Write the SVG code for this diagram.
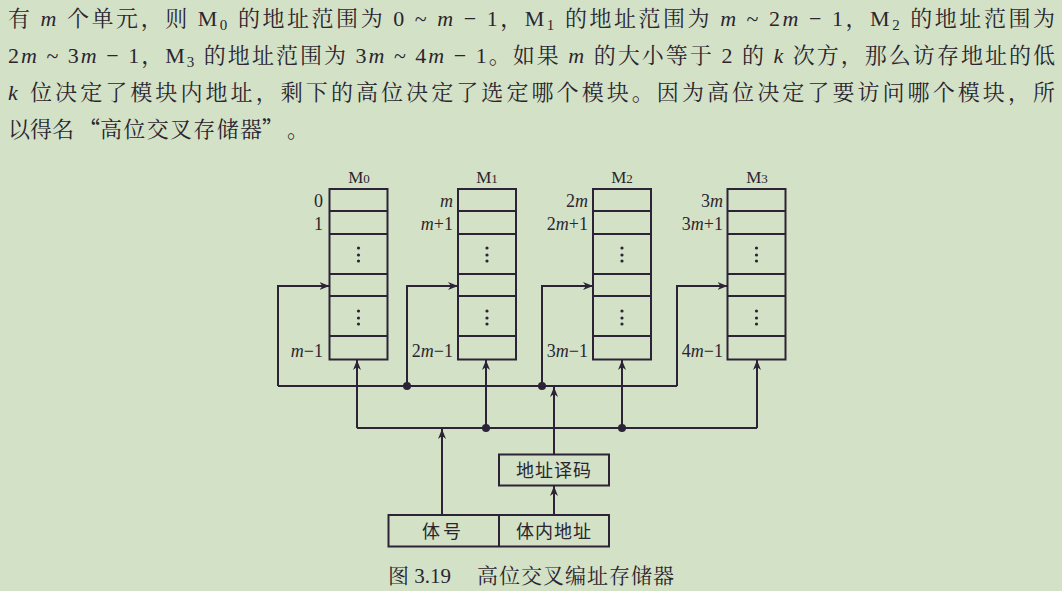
<svg xmlns="http://www.w3.org/2000/svg" width="1062" height="591" viewBox="0 0 1062 591">
<style>
.t{font-family:"Liberation Serif","Noto Serif CJK SC","Noto Sans CJK SC",serif;fill:#2b2530}
.p{font-size:22px}
.i{font-style:italic}
.q{font-family:"Noto Sans CJK SC",sans-serif}
.lbl{font-family:"Liberation Serif","Noto Sans CJK SC",serif;fill:#2b2530;font-size:18px}
.ml{font-family:"Liberation Serif",serif;fill:#2b2530;font-size:17px}
.cj{font-family:"Noto Sans CJK SC",sans-serif;fill:#2b2530;font-size:18px}
.box{fill:none;stroke:#2d2336;stroke-width:2}
.ln{fill:none;stroke:#2d2336;stroke-width:2}
.dot{fill:#2d2336}
</style>
<defs>
<marker id="ah" viewBox="0 0 10 10" refX="10" refY="5" markerWidth="10" markerHeight="10" markerUnits="userSpaceOnUse" orient="auto">
<path d="M0,1 L10,5 L0,9 L3,5 Z" fill="#2d2336"/>
</marker>
</defs>
<rect width="1062" height="591" fill="#d3e2c6"/>

<g id="paragraph">
<text class="t p" x="8" y="26" textLength="1047" lengthAdjust="spacing">有 <tspan class="i">m</tspan> 个单元，则 M<tspan font-size="15" dy="4">0</tspan><tspan dy="-4"> 的地址范围为 0 ~ </tspan><tspan class="i">m</tspan> − 1，M<tspan font-size="15" dy="4">1</tspan><tspan dy="-4"> 的地址范围为 </tspan><tspan class="i">m</tspan> ~ 2<tspan class="i">m</tspan> − 1，M<tspan font-size="15" dy="4">2</tspan><tspan dy="-4"> 的地址范围为</tspan></text>
<text class="t p" x="8" y="63" textLength="1047" lengthAdjust="spacing">2<tspan class="i">m</tspan> ~ 3<tspan class="i">m</tspan> − 1，M<tspan font-size="15" dy="4">3</tspan><tspan dy="-4"> 的地址范围为 3</tspan><tspan class="i">m</tspan> ~ 4<tspan class="i">m</tspan> − 1。如果 <tspan class="i">m</tspan> 的大小等于 2 的 <tspan class="i">k</tspan> 次方，那么访存地址的低</text>
<text class="t p" y="100"><tspan x="8" class="i">k</tspan><tspan x="30" textLength="1025" lengthAdjust="spacing">位决定了模块内地址，剩下的高位决定了选定哪个模块。因为高位决定了要访问哪个模块，所</tspan></text>
<text class="t p" y="137"><tspan x="8">以得名</tspan><tspan x="78" class="q">“</tspan><tspan x="100" textLength="162" lengthAdjust="spacing">高位交叉存储器</tspan><tspan x="262" class="q">”</tspan><tspan x="287">。</tspan></text>
</g>

<g id="M0">
<text class="ml" x="359" y="183" text-anchor="middle">M<tspan font-size="13">0</tspan></text>
<rect class="box" x="329.5" y="189" width="58" height="170.5"/>
<path class="ln" d="M329.5 211H387.5M329.5 234H387.5M329.5 274H387.5M329.5 296H387.5M329.5 336H387.5"/>
<circle class="dot" cx="358.5" cy="248" r="1.6"/><circle class="dot" cx="358.5" cy="255" r="1.6"/><circle class="dot" cx="358.5" cy="261" r="1.6"/>
<circle class="dot" cx="358.5" cy="311" r="1.6"/><circle class="dot" cx="358.5" cy="318" r="1.6"/><circle class="dot" cx="358.5" cy="324" r="1.6"/>
<text class="lbl" x="323" y="207" text-anchor="end">0</text>
<text class="lbl" x="323" y="230" text-anchor="end">1</text>
<text class="lbl" x="323" y="357" text-anchor="end"><tspan class="i">m</tspan>−1</text>
</g>

<g id="M1">
<text class="ml" x="487" y="183" text-anchor="middle">M<tspan font-size="13">1</tspan></text>
<rect class="box" x="458" y="189" width="58" height="170.5"/>
<path class="ln" d="M458 211H516M458 234H516M458 274H516M458 296H516M458 336H516"/>
<circle class="dot" cx="487" cy="248" r="1.6"/><circle class="dot" cx="487" cy="255" r="1.6"/><circle class="dot" cx="487" cy="261" r="1.6"/>
<circle class="dot" cx="487" cy="311" r="1.6"/><circle class="dot" cx="487" cy="318" r="1.6"/><circle class="dot" cx="487" cy="324" r="1.6"/>
<text class="lbl" x="453" y="207" text-anchor="end"><tspan class="i">m</tspan></text>
<text class="lbl" x="453" y="230" text-anchor="end"><tspan class="i">m</tspan>+1</text>
<text class="lbl" x="453" y="357" text-anchor="end">2<tspan class="i">m</tspan>−1</text>
</g>

<g id="M2">
<text class="ml" x="622" y="183" text-anchor="middle">M<tspan font-size="13">2</tspan></text>
<rect class="box" x="593" y="189" width="58" height="170.5"/>
<path class="ln" d="M593 211H651M593 234H651M593 274H651M593 296H651M593 336H651"/>
<circle class="dot" cx="622" cy="248" r="1.6"/><circle class="dot" cx="622" cy="255" r="1.6"/><circle class="dot" cx="622" cy="261" r="1.6"/>
<circle class="dot" cx="622" cy="311" r="1.6"/><circle class="dot" cx="622" cy="318" r="1.6"/><circle class="dot" cx="622" cy="324" r="1.6"/>
<text class="lbl" x="588" y="207" text-anchor="end">2<tspan class="i">m</tspan></text>
<text class="lbl" x="588" y="230" text-anchor="end">2<tspan class="i">m</tspan>+1</text>
<text class="lbl" x="588" y="357" text-anchor="end">3<tspan class="i">m</tspan>−1</text>
</g>

<g id="M3">
<text class="ml" x="757" y="183" text-anchor="middle">M<tspan font-size="13">3</tspan></text>
<rect class="box" x="727.5" y="189" width="58" height="170.5"/>
<path class="ln" d="M727.5 211H785.5M727.5 234H785.5M727.5 274H785.5M727.5 296H785.5M727.5 336H785.5"/>
<circle class="dot" cx="756.5" cy="248" r="1.6"/><circle class="dot" cx="756.5" cy="255" r="1.6"/><circle class="dot" cx="756.5" cy="261" r="1.6"/>
<circle class="dot" cx="756.5" cy="311" r="1.6"/><circle class="dot" cx="756.5" cy="318" r="1.6"/><circle class="dot" cx="756.5" cy="324" r="1.6"/>
<text class="lbl" x="723" y="207" text-anchor="end">3<tspan class="i">m</tspan></text>
<text class="lbl" x="723" y="230" text-anchor="end">3<tspan class="i">m</tspan>+1</text>
<text class="lbl" x="723" y="357" text-anchor="end">4<tspan class="i">m</tspan>−1</text>
</g>

<g id="decoder">
<rect class="box" x="499" y="454.5" width="110" height="31"/>
<text class="cj" x="554" y="477" text-anchor="middle" letter-spacing="1">地址译码</text>
</g>

<g id="address">
<rect class="box" x="388.5" y="515" width="220.5" height="31.5"/>
<path class="ln" d="M499 515V546.5"/>
<text class="cj" x="443" y="538" text-anchor="middle" letter-spacing="3">体号</text>
<text class="cj" x="554" y="538" text-anchor="middle" letter-spacing="1">体内地址</text>
</g>

<g id="connectors">
<path class="ln" d="M278 386H677"/>
<path class="ln" d="M278 386V286H329.5" marker-end="url(#ah)"/>
<path class="ln" d="M407 386V286H458" marker-end="url(#ah)"/>
<path class="ln" d="M542 386V286H593" marker-end="url(#ah)"/>
<path class="ln" d="M677 386V286H727.5" marker-end="url(#ah)"/>
<path class="ln" d="M357 428H757"/>
<path class="ln" d="M357 428V360" marker-end="url(#ah)"/>
<path class="ln" d="M486 428V360" marker-end="url(#ah)"/>
<path class="ln" d="M622 428V360" marker-end="url(#ah)"/>
<path class="ln" d="M757 428V360" marker-end="url(#ah)"/>
<path class="ln" d="M554 454.5V387" marker-end="url(#ah)"/>
<path class="ln" d="M442 515V429" marker-end="url(#ah)"/>
<path class="ln" d="M554 515V486" marker-end="url(#ah)"/>
<circle class="dot" cx="407" cy="386" r="4"/>
<circle class="dot" cx="542" cy="386" r="4"/>
<circle class="dot" cx="486" cy="428" r="4"/>
<circle class="dot" cx="622" cy="428" r="4"/>
</g>

<g id="caption">
<text class="t" x="388" y="583" font-size="21">图 3.19<tspan x="477" letter-spacing="1">高位交叉编址存储器</tspan></text>
</g>
</svg>
